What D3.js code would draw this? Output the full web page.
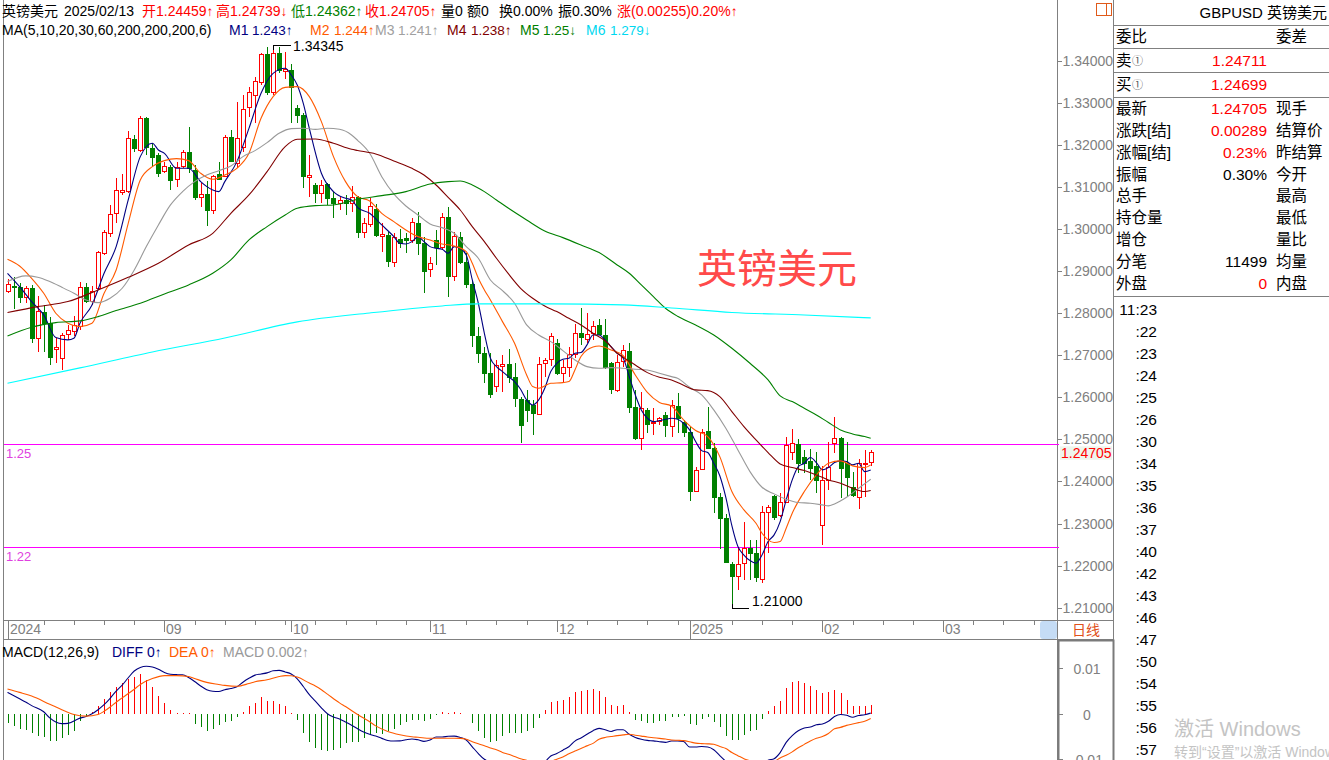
<!DOCTYPE html>
<html><head><meta charset="utf-8">
<script src="https://cdn.jsdelivr.net/npm/d3@7/dist/d3.min.js"></script>
<style>
html,body{margin:0;padding:0;background:#fff;overflow:hidden}
svg{display:block;font-family:"Liberation Sans",Arial,"Noto Sans CJK SC",sans-serif}
</style></head><body>
<svg id="c" width="1329" height="760"></svg>
<script>
// ---------------- DATA ----------------
const symbol = "英镑美元";
const dateLabel = "2025/02/13";
const changeLabel = "涨(0.00255)0.20%↑";
const opens = [1.28536,1.28647,1.28631,1.28394,1.28592,1.27404,1.28037,1.27776,1.27150,1.26928,
1.27499,1.27586,1.27697,1.28631,1.28299,1.28592,1.29423,1.29898,1.30374,1.30888,
1.30912,1.32148,1.31878,1.32647,1.31918,1.31760,1.31379,1.31482,1.31181,1.31498,
1.31823,1.31403,1.30770,1.30833,1.30453,1.31300,1.31261,1.32180,1.31562,1.31958,
1.32908,1.33185,1.33502,1.34159,1.33264,1.34175,1.33763,1.33779,1.32868,1.32710,
1.31245,1.31047,1.30865,1.31071,1.30730,1.30627,1.30690,1.30627,1.30754,1.29922,
1.30120,1.30468,1.29843,1.29858,1.29225,1.29763,1.29779,1.29740,1.30151,1.29660,
1.29043,1.29740,1.29581,1.30278,1.28892,1.29819,1.29209,1.28694,1.27459,1.27047,
1.26572,1.26279,1.26754,1.26786,1.26492,1.25962,1.25938,1.25819,1.25605,1.26809,
1.26904,1.27300,1.26572,1.26730,1.27031,1.27522,1.27379,1.27522,1.27720,1.27482,
1.26809,1.26176,1.26873,1.27110,1.25780,1.25027,1.25700,1.25384,1.25447,1.25582,
1.25320,1.25796,1.25423,1.25186,1.23784,1.24291,1.25201,1.24806,1.23641,1.23126,
1.22033,1.21756,1.22057,1.22414,1.22295,1.21677,1.23285,1.23657,1.23206,1.23522,
1.24710,1.24893,1.24592,1.24489,1.24378,1.22960,1.24037,1.24908,1.25043,1.24433,
1.23879,1.23641,1.24417,1.24459];
const highs = [1.28805,1.28869,1.28726,1.28647,1.28671,1.28409,1.28196,1.27918,1.27404,1.27522,
1.27720,1.27934,1.28734,1.28710,1.28647,1.29487,1.29978,1.30572,1.31205,1.31308,
1.32338,1.32235,1.32686,1.32670,1.32037,1.31800,1.31601,1.31522,1.31601,1.31878,
1.32417,1.31522,1.31086,1.31150,1.31284,1.31601,1.32235,1.32354,1.33027,1.33185,
1.33383,1.33605,1.34191,1.34318,1.34345,1.34318,1.34215,1.33922,1.32948,1.32750,
1.31760,1.31102,1.31166,1.31102,1.30888,1.30770,1.30809,1.31023,1.30785,1.30254,
1.30730,1.30595,1.30151,1.29938,1.29898,1.29993,1.29898,1.30254,1.30413,1.29819,
1.29344,1.29977,1.30373,1.30516,1.29938,1.29938,1.29423,1.28789,1.27680,1.27205,
1.27047,1.26888,1.27007,1.27142,1.26809,1.26017,1.26176,1.25938,1.26968,1.26944,
1.27522,1.27380,1.26888,1.27205,1.27744,1.28116,1.27997,1.27823,1.27855,1.27855,
1.26849,1.27000,1.27245,1.27300,1.26176,1.26136,1.25740,1.25740,1.25542,1.25661,
1.25938,1.26096,1.25463,1.25304,1.24354,1.25241,1.25764,1.24908,1.23720,1.23229,
1.22097,1.22453,1.23047,1.22612,1.22612,1.23427,1.23443,1.23681,1.23736,1.25051,
1.25241,1.25003,1.24750,1.24774,1.24710,1.24370,1.24948,1.25526,1.25067,1.24948,
1.24235,1.24528,1.24750,1.24739];
const lows = [1.28473,1.28093,1.28235,1.28235,1.27301,1.27087,1.27087,1.26770,1.26810,1.26651,
1.27364,1.27459,1.27602,1.28235,1.28196,1.28552,1.29384,1.29819,1.30152,1.30809,
1.30849,1.31839,1.31839,1.31760,1.31482,1.31245,1.31324,1.30928,1.31007,1.31443,
1.31324,1.30690,1.30532,1.30073,1.30358,1.31166,1.31229,1.31601,1.31443,1.31839,
1.32670,1.32512,1.33423,1.33185,1.33185,1.33700,1.33557,1.32512,1.32512,1.30968,
1.30770,1.30611,1.30611,1.30572,1.30255,1.30453,1.30334,1.30413,1.29796,1.29780,
1.30056,1.29803,1.29462,1.29106,1.29106,1.29542,1.29423,1.29660,1.29383,1.28470,
1.28868,1.29150,1.29502,1.28377,1.28773,1.29170,1.28591,1.27205,1.26810,1.26334,
1.25978,1.26136,1.26136,1.26334,1.25780,1.24908,1.25423,1.25106,1.25582,1.26477,
1.26746,1.26532,1.26334,1.26493,1.26928,1.27245,1.27284,1.27364,1.27482,1.26666,
1.26081,1.26136,1.26730,1.25621,1.24988,1.24750,1.25146,1.25106,1.25344,1.25067,
1.25067,1.25146,1.25067,1.23546,1.23760,1.24275,1.24790,1.23245,1.22390,1.22057,
1.21000,1.21424,1.21661,1.21661,1.21622,1.21598,1.22311,1.23087,1.23166,1.23483,
1.24512,1.24196,1.24196,1.24037,1.23720,1.22493,1.23800,1.24671,1.23602,1.23641,
1.23641,1.23340,1.23641,1.24362];
const closes = [1.28687,1.28615,1.28378,1.28592,1.27419,1.28061,1.27776,1.26952,1.27206,1.27483,
1.27602,1.27720,1.28615,1.28291,1.28536,1.29455,1.29922,1.30358,1.30928,1.30928,
1.32156,1.31918,1.32647,1.31958,1.31720,1.31324,1.31498,1.31166,1.31482,1.31823,
1.31443,1.30770,1.30833,1.30453,1.31261,1.31200,1.32180,1.31625,1.32156,1.32853,
1.33249,1.33510,1.34159,1.33264,1.34175,1.33779,1.33795,1.33383,1.32710,1.31261,
1.31277,1.30849,1.31047,1.30730,1.30611,1.30690,1.30611,1.30754,1.29938,1.30136,
1.30547,1.29858,1.29874,1.29249,1.29803,1.29676,1.29732,1.30175,1.29660,1.29011,
1.29201,1.29581,1.30278,1.28892,1.29843,1.29225,1.28694,1.27482,1.27063,1.26588,
1.26081,1.26770,1.26786,1.26477,1.25978,1.25344,1.25700,1.25621,1.26786,1.26888,
1.27459,1.26572,1.26730,1.27031,1.27522,1.27427,1.27506,1.27704,1.27506,1.26730,
1.26191,1.26833,1.27126,1.25780,1.25043,1.25740,1.25368,1.25423,1.25502,1.25344,
1.25819,1.25502,1.25186,1.23784,1.24275,1.25186,1.24806,1.23641,1.23126,1.22097,
1.21756,1.22033,1.22414,1.22295,1.21740,1.23269,1.23388,1.23166,1.23522,1.24869,
1.24908,1.24433,1.24433,1.24314,1.24037,1.24037,1.24354,1.25043,1.24314,1.24116,
1.23681,1.24433,1.24449,1.24705];

// moving averages: [candle index, value]
const ma5 = [[0,1.28948],[2,1.28631],[4,1.28275],[6,1.27958],[8,1.2742],[10,1.27364],[11,1.27404],[12,1.2776],[14,1.28196],[16,1.28948],[18,1.29582],[20,1.3069],[22,1.3172],[24,1.32037],[25,1.31878],[26,1.31799],[28,1.31443],[30,1.31443],[32,1.31126],[34,1.30928],[35,1.30888],[36,1.31126],[38,1.31601],[40,1.32393],[42,1.33225],[44,1.337],[46,1.33819],[47,1.3366],[48,1.33423],[49,1.32987],[50,1.32393],[52,1.31324],[54,1.30888],[56,1.3073],[57,1.3069],[58,1.3051],[60,1.30373],[62,1.30096],[64,1.29819],[65,1.2966],[66,1.29645],[67,1.297],[68,1.29819],[69,1.297],[70,1.29581],[71,1.29542],[72,1.29518],[73,1.29423],[74,1.29581],[75,1.29542],[76,1.29383],[77,1.28789],[78,1.28235],[79,1.27522],[80,1.26928],[81,1.2673],[82,1.26611],[83,1.26492],[84,1.26374],[85,1.26191],[86,1.25938],[87,1.25819],[88,1.25938],[89,1.26215],[90,1.26611],[91,1.26809],[92,1.26904],[93,1.26928],[94,1.27047],[95,1.27063],[96,1.27245],[97,1.27482],[98,1.27482],[99,1.27364],[100,1.27205],[101,1.27047],[102,1.26928],[103,1.26493],[104,1.26057],[105,1.257],[106,1.25502],[107,1.25423],[108,1.25447],[109,1.25479],[110,1.25502],[111,1.25479],[112,1.25384],[113,1.25225],[114,1.24948],[115,1.24734],[116,1.24687],[117,1.24433],[118,1.24137],[119,1.23624],[120,1.22951],[121,1.22455],[122,1.22252],[123,1.2212],[124,1.22057],[125,1.22255],[126,1.22572],[127,1.2273],[128,1.23047],[129,1.23562],[130,1.24037],[131,1.24354],[132,1.24433],[133,1.24568],[134,1.24449],[135,1.24275],[136,1.2433],[137,1.24449],[138,1.24489],[139,1.24473],[140,1.24394],[141,1.24433],[142,1.24235],[143,1.24275]];
const ma10 = [[0,1.29281],[2,1.29122],[4,1.28829],[6,1.28473],[8,1.27998],[10,1.2776],[12,1.27681],[14,1.2776],[16,1.28473],[18,1.29027],[20,1.30136],[22,1.31166],[24,1.31482],[26,1.31625],[28,1.31672],[30,1.31625],[32,1.31324],[34,1.31181],[36,1.31284],[38,1.31443],[40,1.31799],[42,1.32631],[44,1.33146],[46,1.33367],[48,1.33383],[50,1.33146],[52,1.32552],[54,1.3172],[56,1.31126],[58,1.3077],[60,1.30666],[62,1.30373],[64,1.30175],[66,1.29977],[68,1.29819],[70,1.2974],[72,1.29645],[74,1.29597],[76,1.29462],[77,1.29185],[78,1.28829],[79,1.28552],[80,1.28314],[82,1.27799],[84,1.27284],[86,1.26532],[87,1.26255],[88,1.26215],[90,1.26334],[92,1.2635],[93,1.26374],[94,1.26651],[95,1.26968],[96,1.27126],[98,1.27221],[100,1.27126],[102,1.26988],[104,1.26532],[106,1.26117],[108,1.25879],[110,1.25792],[112,1.25463],[114,1.2521],[116,1.25067],[118,1.2459],[120,1.2376],[122,1.23324],[124,1.23008],[125,1.2277],[126,1.22612],[127,1.22548],[128,1.22572],[129,1.22889],[130,1.23245],[132,1.2376],[134,1.24156],[136,1.24433],[138,1.24489],[140,1.2437],[142,1.2433],[143,1.24394]];
const ma20 = [[0,1.2875],[3,1.28885],[5,1.28853],[7,1.2875],[9,1.28615],[11,1.28473],[13,1.28314],[15,1.28251],[17,1.28354],[19,1.28592],[21,1.29027],[23,1.29582],[25,1.30096],[27,1.30572],[29,1.30888],[31,1.31126],[33,1.31284],[35,1.31387],[37,1.31498],[39,1.3172],[41,1.31863],[43,1.32053],[45,1.32274],[47,1.32385],[49,1.32393],[51,1.32369],[53,1.32393],[55,1.32369],[57,1.32235],[58,1.32108],[60,1.31799],[62,1.31244],[64,1.30833],[66,1.30547],[68,1.30334],[70,1.3012],[72,1.30033],[74,1.29898],[76,1.29581],[78,1.29304],[80,1.28789],[82,1.28536],[84,1.28235],[86,1.2772],[88,1.27482],[90,1.27324],[92,1.2711],[94,1.26888],[96,1.2673],[98,1.2669],[100,1.26706],[102,1.2669],[104,1.26667],[106,1.26651],[108,1.26571],[110,1.26492],[111,1.26453],[113,1.26239],[115,1.26057],[117,1.25701],[119,1.25265],[121,1.2475],[123,1.24235],[125,1.23863],[127,1.23705],[129,1.23578],[131,1.23499],[133,1.23483],[135,1.23443],[136,1.2342],[137,1.23467],[139,1.23625],[141,1.23839],[143,1.24053]];
const ma30 = [[0,1.28014],[5,1.28156],[10,1.28275],[15,1.28552],[20,1.28853],[25,1.29186],[30,1.29621],[34,1.29898],[37,1.30374],[40,1.30809],[43,1.31364],[46,1.31958],[48,1.32132],[51,1.3214],[54,1.32037],[57,1.31894],[58,1.31866],[61,1.31783],[64,1.31617],[67,1.31442],[69,1.31284],[71,1.31046],[73,1.30753],[75,1.30452],[77,1.30056],[79,1.297],[81,1.29304],[83,1.28932],[85,1.28591],[87,1.28354],[89,1.28171],[91,1.28037],[93,1.27878],[95,1.2772],[97,1.27522],[99,1.27344],[101,1.27047],[102,1.2695],[104,1.2677],[106,1.26587],[108,1.26476],[110,1.26413],[112,1.26287],[114,1.26176],[116,1.2616],[118,1.26017],[120,1.25661],[122,1.25304],[124,1.24988],[126,1.24687],[128,1.24417],[130,1.2433],[132,1.24259],[134,1.24156],[136,1.24037],[138,1.23958],[140,1.23839],[142,1.2376],[143,1.23784]];
const ma60 = [[0,1.27459],[4,1.27665],[8,1.27776],[12,1.27816],[15,1.27918],[18,1.28061],[22,1.28235],[26,1.28457],[30,1.28671],[34,1.28948],[37,1.29265],[40,1.2974],[43,1.30057],[46,1.30334],[48,1.30492],[51,1.30556],[54,1.30572],[58,1.30706],[62,1.30793],[66,1.30888],[70,1.3107],[73,1.31126],[75,1.31141],[77,1.31046],[79,1.30888],[81,1.3069],[83,1.30492],[86,1.30215],[89,1.29953],[92,1.29795],[95,1.29621],[98,1.2944],[101,1.29146],[103,1.28948],[105,1.2867],[107,1.28393],[109,1.28116],[111,1.27926],[114,1.2772],[117,1.27482],[120,1.27166],[123,1.26809],[126,1.26413],[128,1.26033],[130,1.25898],[132,1.2574],[134,1.25582],[136,1.254],[138,1.25225],[140,1.2513],[142,1.25067],[143,1.25027]];
const ma200 = [[0,1.26335],[12,1.26699],[24,1.27079],[36,1.27411],[48,1.27792],[60,1.28005],[72,1.28172],[78,1.2822],[90,1.2822],[102,1.28196],[110,1.28124],[120,1.28017],[132,1.27958],[143,1.27887]];
const maNames = ["M1","M2","M3","M4","M5","M6"];
const maArrows = ["↑","↑","↑","↑","↓","↓"];

// MACD (values in units of 0.001)
const macdHist = [-2.02,-2.76,-3.29,-3.51,-4.26,-4.78,-5.0,-5.98,-5.98,-5.38,
-4.63,-3.74,-1.49,-0.75,0.37,1.72,3.21,4.71,5.98,6.72,
7.69,8.07,8.67,7.32,5.83,3.96,2.47,0.82,0.22,0.15,
0.07,-2.24,-2.99,-3.88,-3.29,-2.39,-1.79,-1.49,-0.75,0.37,
1.64,2.47,3.59,2.84,2.84,2.24,1.72,0.07,-1.27,-4.26,
-6.13,-7.47,-7.99,-8.22,-7.99,-7.62,-6.5,-6.13,-6.13,-5.38,
-4.63,-4.26,-4.48,-3.88,-3.29,-2.39,-1.79,-1.34,-1.34,-1.49,
-1.05,-0.3,0.37,0.07,0.37,0.15,0.05,-2.02,-3.88,-5.23,
-6.13,-5.98,-4.78,-4.26,-4.26,-4.26,-3.88,-3.14,-0.9,0.75,
2.61,2.84,3.06,3.74,4.71,5.08,5.3,5.53,5.08,3.74,
1.94,1.72,1.94,0.37,-1.42,-1.64,-2.02,-2.02,-1.64,-1.64,
-0.67,-0.67,-0.52,-2.24,-2.39,-1.12,-0.75,-1.79,-2.99,-4.78,
-5.83,-5.83,-4.63,-3.88,-3.59,-1.12,0.6,1.72,2.84,5.6,
6.95,7.1,6.8,6.2,5.3,4.48,4.86,5.3,4.48,3.06,
1.72,1.72,1.72,1.94];
const macdDiff = [[0,4.71],[2,3.3],[3,2.61],[4,1.8],[6,0.45],[7,-0.9],[8,-1.8],[9,-2.15],[10,-2.1],[12,-0.95],[13,-0.6],[14,0.0],[15,0.9],[16,2.0],[17,3.4],[18,5.0],[19,6.3],[20,7.92],[21,9.4],[22,10.2],[23,10.45],[24,10.3],[25,9.8],[26,9.1],[27,8.7],[28,8.6],[29,8.59],[30,8.0],[31,7.1],[32,6.1],[33,5.3],[34,4.95],[35,4.9],[36,5.3],[37,5.55],[38,5.95],[39,6.95],[40,7.8],[41,8.5],[42,8.75],[43,9.0],[44,9.45],[45,9.55],[46,9.2],[47,8.75],[48,7.69],[49,6.0],[50,4.2],[51,2.8],[52,1.3],[53,0.0],[54,-0.7],[55,-1.15],[56,-1.8],[57,-2.5],[58,-3.29],[59,-4.0],[60,-4.5],[61,-4.9],[62,-5.4],[63,-5.85],[64,-5.98],[65,-5.95],[66,-5.7],[67,-5.53],[68,-5.72],[69,-6.05],[70,-5.75],[71,-5.1],[72,-5.1],[73,-4.95],[74,-4.9],[75,-5.2],[76,-5.75],[77,-7.25],[78,-8.74],[79,-10.0],[80,-10.6],[81,-10.9],[82,-11.1],[83,-11.3],[84,-11.5],[85,-11.7],[86,-11.9],[87,-11.6],[88,-11.1],[89,-10.6],[90,-9.26],[91,-8.74],[92,-7.99],[93,-7.25],[94,-6.0],[95,-5.3],[96,-4.5],[97,-3.7],[98,-3.2],[99,-3.51],[100,-3.88],[101,-3.51],[102,-3.51],[103,-4.5],[104,-5.2],[105,-5.6],[106,-5.85],[107,-5.95],[108,-6.13],[109,-6.27],[110,-5.98],[111,-5.98],[112,-6.1],[113,-7.3],[114,-7.3],[115,-7.2],[116,-7.3],[117,-7.9],[118,-9.2],[119,-10.46],[120,-11.66],[121,-12.2],[122,-12.2],[123,-12.25],[124,-12.55],[125,-11.46],[126,-10.2],[127,-9.86],[128,-8.52],[129,-6.27],[130,-4.78],[131,-3.74],[132,-3.14],[133,-2.91],[134,-2.39],[135,-2.24],[136,-1.64],[137,-0.6],[138,-0.15],[139,-0.3],[140,-0.75],[141,-0.37],[142,-0.22],[143,0.15]];
const macdDea = [[0,5.45],[2,4.71],[4,3.9],[7,2.1],[9,0.9],[11,-0.15],[13,-0.5],[15,-0.15],[16,0.55],[17,1.5],[18,2.55],[19,3.5],[21,5.4],[22,6.45],[24,7.75],[26,8.4],[28,8.4],[30,8.2],[31,7.75],[33,6.9],[35,6.45],[36,6.25],[38,6.05],[40,6.65],[41,7.05],[43,7.47],[45,8.2],[46,8.4],[47,8.35],[48,8.07],[50,6.75],[51,6.1],[52,5.3],[53,4.33],[55,2.4],[56,1.6],[58,-0.15],[60,-1.75],[61,-2.65],[63,-3.88],[65,-4.6],[67,-5.05],[68,-5.15],[70,-5.38],[72,-5.38],[74,-5.38],[75,-5.4],[76,-5.6],[77,-6.13],[78,-6.6],[79,-7.02],[80,-7.5],[81,-7.9],[82,-8.5],[83,-8.9],[84,-9.4],[85,-9.9],[86,-10.2],[87,-10.5],[88,-10.7],[89,-10.7],[90,-10.46],[91,-10.0],[92,-9.49],[93,-8.8],[94,-8.2],[95,-7.6],[96,-7.05],[97,-6.5],[98,-5.6],[99,-5.2],[100,-5.0],[101,-4.8],[102,-4.63],[103,-4.48],[104,-4.7],[105,-4.9],[106,-5.1],[107,-5.25],[108,-5.4],[109,-5.55],[110,-5.75],[111,-5.82],[112,-5.9],[113,-6.15],[114,-6.45],[115,-6.55],[116,-6.6],[117,-6.7],[118,-7.2],[119,-7.62],[120,-8.52],[121,-9.2],[122,-9.86],[123,-10.3],[124,-10.7],[125,-10.9],[126,-10.6],[127,-10.46],[128,-9.71],[129,-9.11],[130,-8.37],[131,-7.47],[132,-6.72],[133,-5.98],[134,-5.38],[135,-5.0],[136,-4.33],[137,-3.29],[138,-2.99],[139,-2.54],[140,-2.24],[141,-1.94],[142,-1.64],[143,-1.05]];

// horizontal user lines
const hLineValues = [1.2488, 1.2245];
const hLineLabels = ["1.25", "1.22"];

// axis ticks
const priceTicks = [1.21,1.22,1.23,1.24,1.25,1.26,1.27,1.28,1.29,1.30,1.31,1.32,1.33,1.34];
const macdTicks = [10, 0, -10];
const macdTickLabels = ["0.01", "0", "-0.01"];
const monthTickIdx = [0, 26, 47, 70, 91, 113, 135, 155];
const monthTickLabels = ["2024","09","10","11","12","2025","02","03"];
const weekTickIdx = [6,11,16,21,31,36,41,46,51,56,61,66,76,81,86,96,101,106,111,120,125,130,140,145,150,160,165,170];

// quote panel
const quoteRows = [
  ["最新","1.24705","现手","#ff0000"],
  ["涨跌[结]","0.00289","结算价","#ff0000"],
  ["涨幅[结]","0.23%","昨结算","#ff0000"],
  ["振幅","0.30%","今开","#000000"],
  ["总手","","最高","#000000"],
  ["持仓量","","最低","#000000"],
  ["增仓","","量比","#000000"],
  ["分笔","11499","均量","#000000"],
  ["外盘","0","内盘","#ff0000"]
];
const askBid = [["卖","1.24711"],["买","1.24699"]];
const tickTimes = ["11:23",":22",":23",":24",":25",":26",":30",":34",":35",":36",":37",":40",":42",":43",":46",":47",":50",":54",":55",":56",":57"];

// ---------------- DRAW ----------------
const N = closes.length;
const svg = d3.select("#c");
const FONT = '"Liberation Sans",Arial,"Noto Sans CJK SC",sans-serif';
const GRID = "#808080";
const RED = "#ff0000", GREEN = "#008000";
const maColors = ["#000080","#ff5a00","#999999","#800000","#008000","#00ffff"];
const maTextColors = ["#000080","#ff5a00","#a0a0a0","#800000","#008000","#00d8f0"];

const x = d3.scaleLinear().domain([0, 143]).range([7.5, 870.7]);
const y = d3.scaleLinear().domain([1.21, 1.34]).range([607.7, 60.7]);
const ym = d3.scaleLinear().domain([-10, 10]).range([759.3, 668.3]);

const defs = svg.append("defs");
defs.append("clipPath").attr("id","clipMain").append("rect").attr("x",4).attr("y",0).attr("width",1053).attr("height",620);
defs.append("clipPath").attr("id","clipMacd").append("rect").attr("x",4).attr("y",640).attr("width",1053).attr("height",120);

svg.append("rect").attr("width",1329).attr("height",760).attr("fill","#fff");

// frame lines
const frame = svg.append("g").attr("stroke",GRID).attr("stroke-width",1).attr("shape-rendering","crispEdges");
frame.append("line").attr("x1",3.5).attr("x2",3.5).attr("y1",0).attr("y2",760);
frame.append("line").attr("x1",1057.5).attr("x2",1057.5).attr("y1",0).attr("y2",760);
frame.append("line").attr("x1",1113.5).attr("x2",1113.5).attr("y1",0).attr("y2",760);
frame.append("line").attr("x1",3.5).attr("x2",1113.5).attr("y1",620.5).attr("y2",620.5);
frame.append("line").attr("x1",3.5).attr("x2",1113.5).attr("y1",639.5).attr("y2",639.5);
[25.5,48.5,72.5,97.5,296.5].forEach(v=>frame.append("line").attr("x1",1113.5).attr("x2",1329).attr("y1",v).attr("y2",v));
svg.append("rect").attr("x",1058.5).attr("y",640.5).attr("width",55).attr("height",130)
  .attr("fill","none").attr("stroke","#7a7a7a").attr("stroke-width",2);

// ---------- main panel ----------
const main = svg.append("g").attr("clip-path","url(#clipMain)");

main.append("text").attr("x",697).attr("y",283).attr("font-size",40).attr("fill","#ff4a4a")
  .attr("font-family",FONT).text(symbol);

hLineValues.forEach((v,k)=>{
  main.append("line").attr("x1",4).attr("x2",1057).attr("y1",Math.round(y(v))+0.5).attr("y2",Math.round(y(v))+0.5)
    .attr("stroke","#ff00ff").attr("stroke-width",1).attr("shape-rendering","crispEdges");
  main.append("text").attr("x",6).attr("y",Math.round(y(v))+14).attr("font-size",13).attr("fill","#e040e0")
    .attr("font-family",FONT).text(hLineLabels[k]);
});

// candles
const candles = d3.range(N).map(i=>({i,o:opens[i],h:highs[i],l:lows[i],c:closes[i]}));
const cg = main.append("g").attr("shape-rendering","crispEdges");
candles.forEach(d=>{
  const cx = Math.round(x(d.i));
  const up = d.c >= d.o;
  const col = up ? RED : GREEN;
  cg.append("line").attr("x1",cx+0.5).attr("x2",cx+0.5).attr("y1",y(d.h)).attr("y2",y(d.l))
    .attr("stroke",col).attr("stroke-width",1);
  const yt = Math.round(y(Math.max(d.o,d.c))), yb = Math.round(y(Math.min(d.o,d.c)));
  if (yb - yt < 1) {
    cg.append("line").attr("x1",cx-2).attr("x2",cx+3).attr("y1",yt+0.5).attr("y2",yt+0.5).attr("stroke",col);
  } else if (up) {
    cg.append("rect").attr("x",cx-1.5).attr("y",yt+0.5).attr("width",4).attr("height",yb-yt)
      .attr("fill","#fff").attr("stroke",col).attr("stroke-width",1);
  } else {
    cg.append("rect").attr("x",cx-2).attr("y",yt).attr("width",5).attr("height",yb-yt+1).attr("fill",col);
  }
});

// moving average lines
const maSeries = [ma5, ma10, ma20, ma30, ma60, ma200];
const lineGen = d3.line().x(d=>x(d[0])).y(d=>y(d[1])).curve(d3.curveMonotoneX);
maSeries.forEach((s,k)=>{
  main.append("path").attr("d",lineGen(s)).attr("fill","none").attr("stroke",maColors[k]).attr("stroke-width",1.1);
});

// high / low markers
const hiIdx = d3.maxIndex(highs), loIdx = d3.minIndex(lows);
const hx = Math.round(x(hiIdx)), hy = Math.round(y(highs[hiIdx]));
main.append("path").attr("d",`M${hx+0.5},${hy+4}V${hy-0.5}H${hx+18}`).attr("fill","none").attr("stroke","#000").attr("shape-rendering","crispEdges");
main.append("text").attr("x",hx+20).attr("y",hy+5).attr("font-size",14).attr("font-family",FONT).attr("fill","#000").text(highs[hiIdx].toFixed(5));
const lx = Math.round(x(loIdx)), ly = Math.round(y(lows[loIdx]));
main.append("path").attr("d",`M${lx+0.5},${ly-4}V${ly+0.5}H${lx+17}`).attr("fill","none").attr("stroke","#000").attr("shape-rendering","crispEdges");
main.append("text").attr("x",lx+20).attr("y",ly-2).attr("font-size",14).attr("font-family",FONT).attr("fill","#000").text(lows[loIdx].toFixed(5));

// header lines
const last = N-1;
function addText(g, s, px, py, col, size){
  const t = g.append("text").attr("x",px).attr("y",py).attr("font-size",size||14).attr("font-family",FONT).attr("fill",col);
  const parts = s.split(/([↑↓])/);
  parts.forEach(p=>{ if(!p) return;
    const ts = t.append("tspan").text(p);
    if (p==="↑"||p==="↓") ts.attr("font-size",13.5);
  });
  return t;
}
const line1 = [
  [symbol,2,"#000"],[dateLabel,64,"#000"],
  ["开"+opens[last].toFixed(5)+"↑",142,RED],["高"+highs[last].toFixed(5)+"↓",216,RED],
  ["低"+lows[last].toFixed(5)+"↑",291,GREEN],["收"+closes[last].toFixed(5)+"↑",365,RED],
  ["量0",441,"#000"],["额0",467,"#000"],["换0.00%",499,"#000"],
  ["振"+((highs[last]-lows[last])/closes[last-1]*100).toFixed(2)+"%",558,"#000"],
  [changeLabel,617,RED]
];
line1.forEach(t=>addText(svg,t[0],t[1],16,t[2]));
addText(svg,"MA(5,10,20,30,60,200,200,200,6)",2,35,"#000");
const maLabelX = [[229,252],[310,334],[375,398],[447,471],[520,543],[586,610]];
maSeries.forEach((s,k)=>{
  const v = +s[s.length-1][1].toFixed(3);
  addText(svg,maNames[k],maLabelX[k][0],35,maTextColors[k]);
  addText(svg,String(v)+maArrows[k],maLabelX[k][1],35,maTextColors[k],13.5);
});

// right price axis
const ax = svg.append("g").attr("transform","translate(1057.5,0)")
  .call(d3.axisRight(y).tickValues(priceTicks).tickFormat(d3.format(".5f")).tickSize(4).tickPadding(1));
ax.select(".domain").remove();
ax.selectAll("line").attr("stroke",GRID).attr("shape-rendering","crispEdges");
ax.selectAll("text").attr("fill","#808080").attr("font-size",14).attr("font-family",FONT);
hLineValues.forEach(v=>svg.append("line").attr("x1",1055).attr("x2",1059).attr("y1",Math.round(y(v))+0.5).attr("y2",Math.round(y(v))+0.5).attr("stroke","#ff00ff"));
const cy = y(closes[last]);
svg.append("rect").attr("x",1060).attr("y",cy-5.5).attr("width",52).attr("height",13.5).attr("fill","#eef5ec");
svg.append("text").attr("x",1061).attr("y",cy+6).attr("font-size",14).attr("font-family",FONT).attr("fill",RED).text(closes[last].toFixed(5));

svg.append("rect").attr("x",1096.5).attr("y",3.5).attr("width",15).attr("height",12).attr("fill","none").attr("stroke","#e05a1a");
svg.append("line").attr("x1",1106.5).attr("x2",1106.5).attr("y1",3.5).attr("y2",15.5).attr("stroke","#e05a1a");

// ---------- date axis row ----------
const xa = svg.append("g").attr("shape-rendering","crispEdges");
monthTickIdx.forEach((idx,k)=>{
  const px = Math.round(x(idx))+0.5;
  const isYear = monthTickLabels[k].length === 4;
  xa.append("line").attr("x1",px).attr("x2",px).attr("y1",621).attr("y2",isYear?639:632).attr("stroke",GRID);
  xa.append("text").attr("x",px+1.5).attr("y",634).attr("font-size",14).attr("font-family",FONT).attr("fill","#808080").text(monthTickLabels[k]);
});
weekTickIdx.forEach(idx=>{
  const px = Math.round(x(idx))+0.5;
  xa.append("line").attr("x1",px).attr("x2",px).attr("y1",621).attr("y2",625).attr("stroke",GRID);
});
svg.append("rect").attr("x",1040).attr("y",621).attr("width",17).attr("height",18).attr("rx",3).attr("fill","#c5dcf5");
svg.append("text").attr("x",1072).attr("y",635).attr("font-size",14).attr("font-family",FONT).attr("fill","#e0501a").text("日线");

// ---------- MACD panel ----------
const mg = svg.append("g").attr("clip-path","url(#clipMacd)");
const z0 = Math.round(ym(0));
macdHist.forEach((v,i)=>{
  const px = Math.round(x(i))+0.5;
  mg.append("line").attr("x1",px).attr("x2",px).attr("y1",z0).attr("y2",ym(v))
    .attr("stroke", v>=0 ? RED : GREEN).attr("stroke-width",1).attr("shape-rendering","crispEdges");
});
const mLine = d3.line().x(d=>x(d[0])).y(d=>ym(d[1])).curve(d3.curveMonotoneX);
mg.append("path").attr("d",mLine(macdDiff)).attr("fill","none").attr("stroke","#000080").attr("stroke-width",1.1);
mg.append("path").attr("d",mLine(macdDea)).attr("fill","none").attr("stroke","#ff5a00").attr("stroke-width",1.1);

const macdLabels = [["MACD(12,26,9)",2,"#000"],["DIFF",112,"#000080"],["0↑",147,"#000080"],["DEA",169,"#ff5a00"],["0↑",201,"#ff5a00"],["MACD",223,"#999"],[(macdHist[last]/1000).toFixed(3)+"↑",267,"#999"]];
macdLabels.forEach(t=>addText(svg,t[0],t[1],657,t[2]));

macdTicks.forEach((v,k)=>{
  const py = Math.round(ym(v))+0.5;
  svg.append("line").attr("x1",1059).attr("x2",1063).attr("y1",py).attr("y2",py).attr("stroke",GRID);
  svg.append("text").attr("x",1087).attr("y",py+5).attr("text-anchor","middle").attr("font-size",14).attr("font-family",FONT).attr("fill","#808080").text(macdTickLabels[k]);
});

// ---------- quote panel ----------
const qp = svg.append("g").attr("font-family",FONT).attr("font-size",15.5);
qp.append("text").attr("x",1327).attr("y",18).attr("text-anchor","end").attr("font-size",15).attr("fill","#000").text("GBPUSD "+symbol);
qp.append("text").attr("x",1116).attr("y",41.5).attr("fill","#000").text("委比");
qp.append("text").attr("x",1276).attr("y",41.5).attr("fill","#000").text("委差");
askBid.forEach((r,k)=>{
  const by = 66 + k*23.5;
  qp.append("text").attr("x",1116).attr("y",by).attr("fill","#000").text(r[0]);
  qp.append("text").attr("x",1132).attr("y",by-1).attr("font-size",11).attr("fill","#555").text("①");
  qp.append("text").attr("x",1267).attr("y",by).attr("text-anchor","end").attr("fill",RED).text(r[1]);
});
quoteRows.forEach((r,k)=>{
  const by = 113.8 + k*21.9;
  qp.append("text").attr("x",1116).attr("y",by).attr("fill","#000").text(r[0]);
  qp.append("text").attr("x",1267).attr("y",by).attr("text-anchor","end").attr("fill",r[3]).text(r[1]);
  qp.append("text").attr("x",1276).attr("y",by).attr("fill","#000").text(r[2]);
});
tickTimes.forEach((t,k)=>{
  const by = 314.5 + k*22;
  qp.append("text").attr("x",1157).attr("y",by).attr("text-anchor","end").attr("fill","#000").text(t);
});

// OS watermark
svg.append("text").attr("x",1174).attr("y",736).attr("font-size",20).attr("font-family",FONT).attr("fill","#c4c4c4").text("激活 Windows");
svg.append("text").attr("x",1174).attr("y",757).attr("font-size",14).attr("font-family",FONT).attr("fill","#c4c4c4").text("转到“设置”以激活 Windows。");
</script>
</body></html>
